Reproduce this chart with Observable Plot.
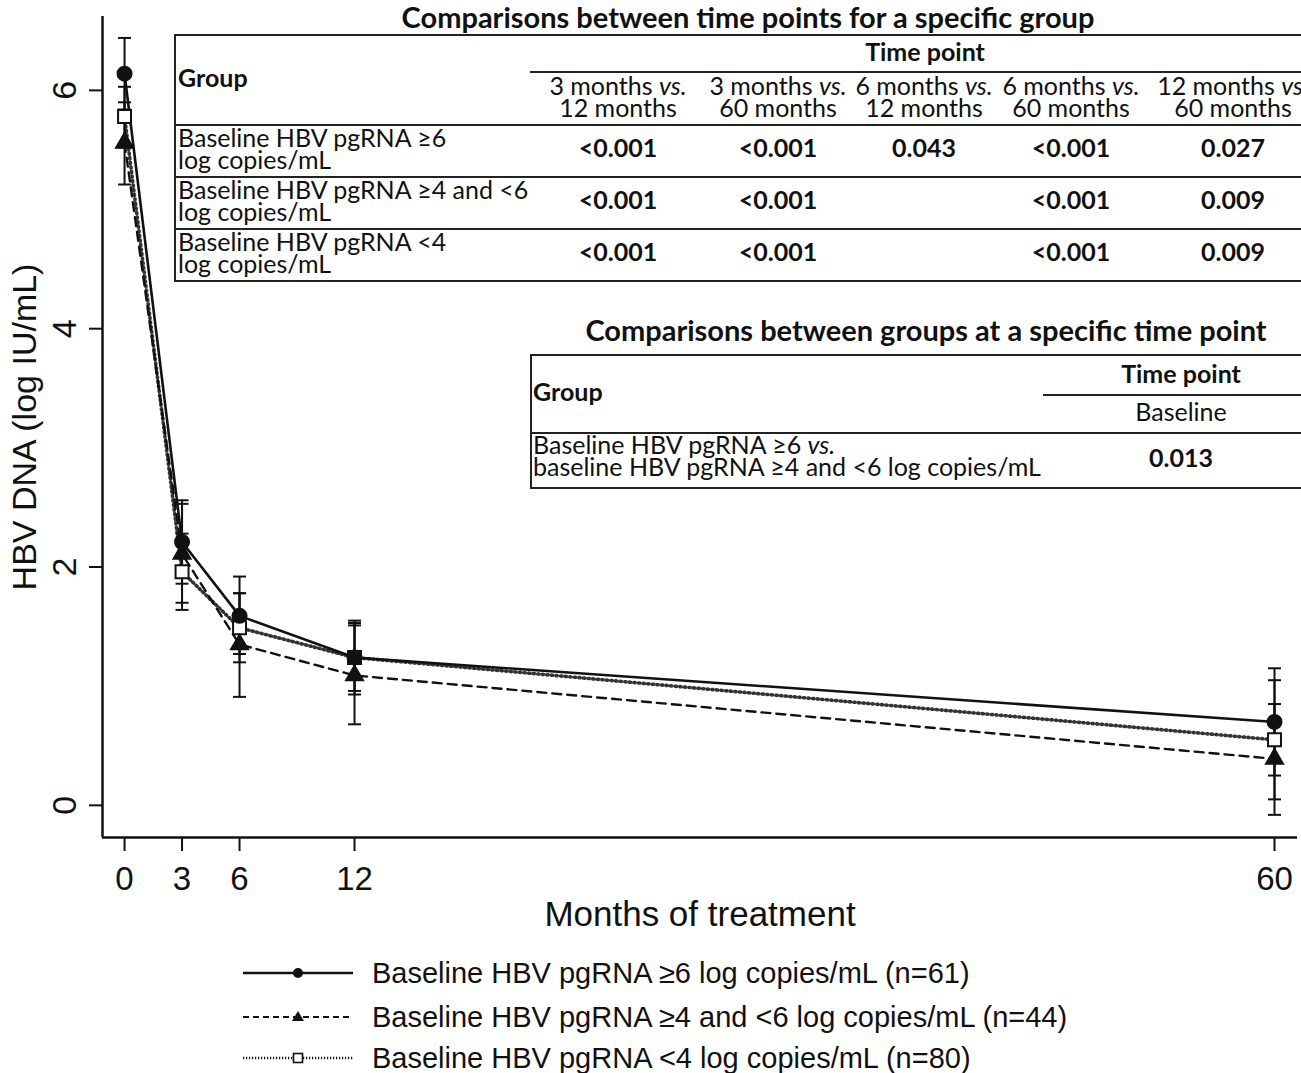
<!DOCTYPE html>
<html>
<head>
<meta charset="utf-8">
<script src="https://cdn.jsdelivr.net/npm/d3@7"></script>
<script src="https://cdn.jsdelivr.net/npm/@observablehq/plot@0.6"></script>
<style>
  body { margin: 0; background: #fff; }
  #fig { position: relative; width: 1301px; height: 1073px; overflow: hidden; background: #fff; color: #111; }
  #chart { position: absolute; left: 0; top: 0; }
  #chart svg { display: block; }
  .tx { position: absolute; white-space: nowrap; font-family: Lato, "Open Sans", sans-serif; font-size: 25px; line-height: 22px; }
  .ttl { font-size: 29px; line-height: 29px; }
  .ctr { transform: translate(-50%, -50%); text-align: center; }
  .lft { transform: translate(0, -50%); text-align: left; }
  .bold { font-weight: bold; }
  .hr { position: absolute; height: 0; border-top: 2px solid #222; }
  .vr { position: absolute; width: 0; border-left: 2px solid #222; }
  .leg { position: absolute; left: 243px; display: flex; align-items: center; font-family: "Liberation Sans", Arial, sans-serif; font-size: 29px; white-space: nowrap; }
  .leg svg { margin-right: 19px; }
</style>
</head>
<body>
<div id="fig"><div id="chart"></div></div>
<script>
// Mean HBV DNA (log IU/mL) with error bars by month of treatment, per baseline pgRNA group
const months = [0, 3, 6, 12, 60];

const highMean  = [6.14, 2.21, 1.59, 1.24, 0.70];
const highLower = [5.84, 1.86, 1.27, 0.93, 0.25];
const highUpper = [6.44, 2.56, 1.92, 1.55, 1.15];

const midMean  = [5.56, 2.11, 1.35, 1.09, 0.39];
const midLower = [5.21, 1.70, 0.91, 0.68, -0.08];
const midUpper = [5.90, 2.53, 1.78, 1.51, 0.85];

const lowMean  = [5.78, 1.96, 1.49, 1.24, 0.55];
const lowLower = [5.52, 1.64, 1.20, 0.96, 0.05];
const lowUpper = [6.03, 2.28, 1.78, 1.53, 1.05];

const groupLabels = [
  "Baseline HBV pgRNA ≥6 log copies/mL (n=61)",
  "Baseline HBV pgRNA ≥4 and <6 log copies/mL (n=44)",
  "Baseline HBV pgRNA <4 log copies/mL (n=80)"
];

const yTicks = [0, 2, 4, 6];
const xTicks = months;

// Inset tables: p-values of the pairwise comparisons
const timeTableTitle = "Comparisons between time points for a specific group";
const timeComparisons = [
  ["3 months", "12 months"],
  ["3 months", "60 months"],
  ["6 months", "12 months"],
  ["6 months", "60 months"],
  ["12 months", "60 months"]
];
const timeRowGroups = [
  ["Baseline HBV pgRNA ≥6", "log copies/mL"],
  ["Baseline HBV pgRNA ≥4 and <6", "log copies/mL"],
  ["Baseline HBV pgRNA <4", "log copies/mL"]
];
const timePValues = [
  ["<0.001", "<0.001", "0.043", "<0.001", "0.027"],
  ["<0.001", "<0.001", "", "<0.001", "0.009"],
  ["<0.001", "<0.001", "", "<0.001", "0.009"]
];

const groupTableTitle = "Comparisons between groups at a specific time point";
const groupTimePoint = "Baseline";
const groupComparison = ["Baseline HBV pgRNA ≥6", "baseline HBV pgRNA ≥4 and <6 log copies/mL"];
const groupPValue = "0.013";

// ---- build the long table for Plot ----
const series = [
  {mean: highMean, lower: highLower, upper: highUpper},
  {mean: midMean, lower: midLower, upper: midUpper},
  {mean: lowMean, lower: lowLower, upper: lowUpper}
];
const rows = series.flatMap((s, g) => months.map((m, i) => ({
  group: g, month: m, mean: s.mean[i], lower: s.lower[i], upper: s.upper[i]
})));

const styles = [
  {symbol: "circle", r: 7, fill: "#111", stroke: "#111", dash: null, width: 2.6},
  {symbol: "triangle", r: 6.3, fill: "#111", stroke: "#111", dash: "9,6", width: 2.4},
  {symbol: "square", r: 7.3, fill: "#fff", stroke: "#333", dash: "1.2,3.4", width: 3.6}
];

// horizontal cap used at the ends of each error bar
const capSymbol = {
  draw(context, size) {
    const w = Math.sqrt(size / Math.PI);
    context.moveTo(-w, 0);
    context.lineTo(w, 0);
  }
};

const xDomain = [-1.15, 61.2];
const yDomain = [-0.27, 6.62];
const ink = "#111";

const byGroup = g => rows.filter(d => d.group === g);
const drawOrder = [2, 1, 0];

const plot = Plot.plot({
  width: 1301,
  height: 945,
  marginTop: 16,
  marginBottom: 108,
  marginLeft: 102,
  marginRight: 4,
  x: {domain: xDomain},
  y: {domain: yDomain},
  style: {fontFamily: "'Liberation Sans', Arial, sans-serif", fontSize: "33px", color: ink, background: "transparent"},
  marks: [
    Plot.ruleX([xDomain[0]], {stroke: ink, strokeWidth: 2.5}),
    Plot.ruleY([yDomain[0]], {stroke: ink, strokeWidth: 2.5}),
    Plot.axisX({ticks: xTicks, tickFormat: d => String(d), tickSize: 14, tickPadding: 15, strokeWidth: 2, fontSize: 33,
      label: "Months of treatment", labelAnchor: "center", labelOffset: 88, labelArrow: "none"}),
    Plot.axisY({ticks: yTicks, tickFormat: d => String(d), tickSize: 13, tickPadding: 14, strokeWidth: 2, fontSize: 34, tickRotate: -90,
      label: "HBV DNA (log IU/mL)", labelAnchor: "center", labelOffset: 91, labelArrow: "none"}),
    ...drawOrder.map(g => Plot.line(byGroup(g), {
      x: "month", y: "mean", stroke: styles[g].stroke, strokeWidth: styles[g].width,
      strokeDasharray: styles[g].dash, curve: "linear"
    })),
    Plot.ruleX(rows, {x: "month", y1: "lower", y2: "upper", stroke: ink, strokeWidth: 2}),
    Plot.dot(rows, {x: "month", y: "lower", symbol: capSymbol, r: 6.5, stroke: ink, strokeWidth: 2, fill: "none"}),
    Plot.dot(rows, {x: "month", y: "upper", symbol: capSymbol, r: 6.5, stroke: ink, strokeWidth: 2, fill: "none"}),
    ...drawOrder.map(g => Plot.dot(byGroup(g), {
      x: "month", y: "mean", symbol: styles[g].symbol, r: styles[g].r,
      fill: styles[g].fill, stroke: ink, strokeWidth: 2
    }))
  ]
});
document.getElementById("chart").appendChild(plot);

// the axis title sits a little larger than the tick labels
plot.querySelectorAll("g[aria-label='x-axis label'] text").forEach(t => t.setAttribute("font-size", 35));

// ---- inset tables (HTML overlay) ----
const fig = document.getElementById("fig");
function addText(html, x, y, cls) {
  const el = document.createElement("div");
  el.className = "tx " + cls;
  el.style.left = x + "px";
  el.style.top = y + "px";
  el.innerHTML = html;
  fig.appendChild(el);
}
function hLine(x, y, w) {
  const el = document.createElement("div");
  el.className = "hr";
  el.style.left = x + "px"; el.style.top = (y - 1) + "px"; el.style.width = w + "px";
  fig.appendChild(el);
}
function vLine(x, y, h) {
  const el = document.createElement("div");
  el.className = "vr";
  el.style.left = (x - 1) + "px"; el.style.top = y + "px"; el.style.height = h + "px";
  fig.appendChild(el);
}
const esc = s => s.replace(/&/g, "&amp;").replace(/</g, "&lt;").replace(/>/g, "&gt;");

// table 1: time points within each group
addText(esc(timeTableTitle), 748, 16, "ctr bold ttl");
const t1 = {left: 175, top: 35, bottom: 281, head: 125, rowLines: [177, 229], subLine: 72, subLeft: 530};
hLine(t1.left, t1.top, 1400);
hLine(t1.left, t1.head, 1400);
t1.rowLines.forEach(y => hLine(t1.left, y, 1400));
hLine(t1.left, t1.bottom, 1400);
vLine(t1.left, t1.top - 1, t1.bottom - t1.top + 2);
hLine(t1.subLeft, t1.subLine, 900);
addText("Group", 178, 77, "lft bold");
addText("Time point", 925, 51, "ctr bold");
const colX = [618, 778, 924, 1071, 1233];
timeComparisons.forEach((c, i) => addText(`${esc(c[0])} <i>vs.</i><br>${esc(c[1])}`, colX[i], 96, "ctr"));
const rowY = [148, 200, 252];
timeRowGroups.forEach((r, j) => {
  addText(`${esc(r[0])}<br>${esc(r[1])}`, 178, rowY[j], "lft");
  timePValues[j].forEach((p, i) => { if (p) addText(esc(p), colX[i], rowY[j] - 1, "ctr bold"); });
});

// table 2: groups at baseline
addText(esc(groupTableTitle), 926, 329, "ctr bold ttl");
const t2 = {left: 531, top: 355, bottom: 488, head: 433, subLine: 395, subLeft: 1043};
hLine(t2.left, t2.top, 900);
hLine(t2.left, t2.head, 900);
hLine(t2.left, t2.bottom, 900);
vLine(t2.left, t2.top - 1, t2.bottom - t2.top + 2);
hLine(t2.subLeft, t2.subLine, 400);
addText("Group", 533, 391, "lft bold");
addText("Time point", 1181, 373, "ctr bold");
addText(esc(groupTimePoint), 1181, 411, "ctr");
addText(`${esc(groupComparison[0])} <i>vs.</i><br>${esc(groupComparison[1])}`, 533, 455, "lft");
addText(esc(groupPValue), 1181, 457, "ctr bold");

// ---- legend ----
const legendY = [973, 1017, 1058];
const legendMarker = [
  `<circle cx="55" cy="10" r="5" fill="#111"/>`,
  `<path d="M55,4 L61,14 L49,14 Z" fill="#111"/>`,
  `<rect x="50.5" y="5.5" width="9" height="9" fill="#fff" stroke="#111" stroke-width="1.6"/>`
];
groupLabels.forEach((label, g) => {
  const row = document.createElement("div");
  row.className = "leg";
  row.style.top = (legendY[g] - 16) + "px";
  const s = styles[g];
  const dash = s.dash ? `stroke-dasharray="${g === 1 ? "6,4" : "1.2,1.8"}"` : "";
  const sw = g === 0 ? 2.4 : g === 1 ? 1.8 : 2.6;
  row.innerHTML = `<svg width="110" height="20" style="overflow:visible"><line x1="0" x2="110" y1="10" y2="10" stroke="#111" stroke-width="${sw}" ${dash}/>${legendMarker[g]}</svg><span>${esc(label)}</span>`;
  row.style.height = "32px";
  fig.appendChild(row);
});
</script>
</body>
</html>
